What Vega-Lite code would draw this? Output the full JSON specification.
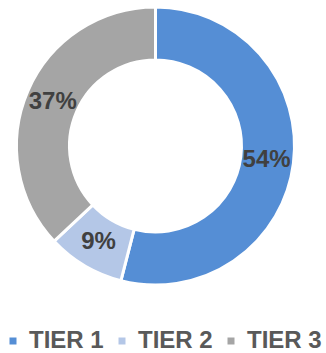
{
  "$schema": "https://vega.github.io/schema/vega-lite/v6.json",
  "width": 311,
  "height": 292,
  "padding": 0,
  "autosize": {"type": "pad"},
  "background": "white",
  "config": {"view": {"stroke": null}, "font": "Liberation Sans"},
  "data": {"values": [
    {"tier": "TIER 1", "share": 0.54},
    {"tier": "TIER 2", "share": 0.09},
    {"tier": "TIER 3", "share": 0.37}
  ]},
  "encoding": {
    "theta": {"field": "share", "type": "quantitative", "stack": true},
    "order": {"field": "tier", "type": "nominal", "sort": "ascending"}
  },
  "layer": [
    {"mark": {"type": "arc", "outerRadius": 139, "innerRadius": 86, "stroke": "white", "strokeWidth": 3},
     "encoding": {
      "color": {
        "field": "tier", "type": "nominal",
        "scale": {"domain": ["TIER 1", "TIER 2", "TIER 3"], "range": ["#558ED5", "#B4C7E7", "#A5A5A5"]},
        "legend": {
          "title": null, "orient": "none", "direction": "horizontal",
          "legendX": 1, "legendY": 329, "padding": 0,
          "symbolType": "square", "symbolSize": 49, "symbolStrokeWidth": 0,
          "labelFont": "Liberation Sans", "labelFontSize": 24, "labelFontWeight": "bold",
          "labelColor": "#595959", "labelOffset": 4, "columnPadding": 6
        }
      }
     }},
    {"mark": {"type": "text", "radius": 112, "font": "Liberation Sans", "fontSize": 24, "fontWeight": "bold", "fill": "#404040"},
     "encoding": {"text": {"field": "share", "type": "quantitative", "format": ".0%"}, "detail": {"field": "tier", "type": "nominal"}}}
  ]
}
